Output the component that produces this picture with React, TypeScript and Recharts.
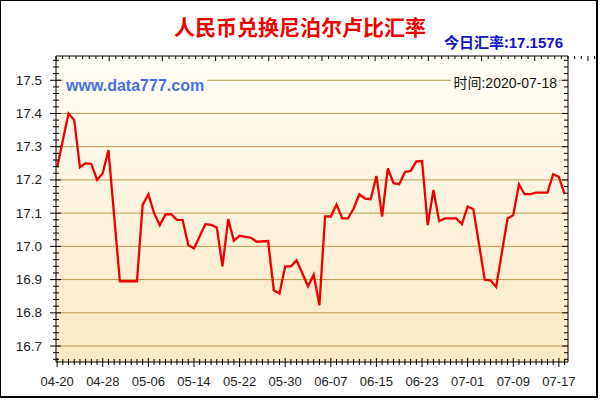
import { LineChart, Line, XAxis, YAxis, ReferenceLine } from "recharts";

// dates (2020) and rates
const dates = [
	"04-20", "04-22", "04-23", "04-24", "04-25", "04-26", "04-27", "04-28", "04-29",
	"05-01", "05-04", "05-05", "05-06", "05-07", "05-08", "05-09", "05-10", "05-11",
	"05-12", "05-13", "05-14", "05-16", "05-17", "05-18", "05-19", "05-20", "05-21",
	"05-22", "05-24", "05-25", "05-27", "05-28", "05-29", "05-30", "05-31", "06-01",
	"06-03", "06-04", "06-05", "06-06", "06-07", "06-08", "06-09", "06-10", "06-11",
	"06-12", "06-13", "06-14", "06-15", "06-16", "06-17", "06-18", "06-19", "06-20",
	"06-21", "06-22", "06-23", "06-24", "06-25", "06-26", "06-27", "06-29", "06-30",
	"07-01", "07-02", "07-04", "07-05", "07-06", "07-08", "07-09", "07-10", "07-11",
	"07-12", "07-13", "07-15", "07-16", "07-17", "07-18",
];
const rates = [
	17.238, 17.4, 17.38, 17.238, 17.25, 17.248, 17.2, 17.22, 17.29,
	16.895, 16.895, 17.125, 17.157, 17.1, 17.064, 17.096, 17.097, 17.08,
	17.08, 17.004, 16.994, 17.067, 17.065, 17.057, 16.94, 17.082, 17.017,
	17.032, 17.026, 17.014, 17.016, 16.868, 16.858, 16.94, 16.94, 16.958,
	16.88, 16.915, 16.823, 17.09, 17.09, 17.126, 17.084, 17.084, 17.114,
	17.157, 17.144, 17.142, 17.212, 17.09, 17.235, 17.19, 17.187, 17.224,
	17.227, 17.256, 17.257, 17.064, 17.17, 17.076, 17.084, 17.084, 17.067,
	17.12, 17.112, 16.9, 16.898, 16.878, 17.084, 17.094, 17.187, 17.157,
	17.157, 17.162, 17.162, 17.217, 17.209, 17.1576,
];
const xLabels = ["04-20", "04-28", "05-06", "05-14", "05-22", "05-30", "06-07", "06-15", "06-23", "07-01", "07-09", "07-17"];
const yMajor = [16.7, 16.8, 16.9, 17.0, 17.1, 17.2, 17.3, 17.4, 17.5];

const dayOf = (md: string) => {
	const [m, d] = md.split("-").map(Number);
	return (Date.UTC(2020, m - 1, d) - Date.UTC(2020, 3, 20)) / 86400000;
};

const data = dates.map((d, i) => ({ day: dayOf(d), rate: rates[i] }));

const xTicks = Array.from({ length: 90 }, (_, i) => i);
const yTicks = Array.from({ length: 46 }, (_, i) => +(16.66 + i * 0.02).toFixed(2));
const X_DOMAIN: [number, number] = [-0.2, 89.6];
const Y_DOMAIN: [number, number] = [16.652, 17.573];

const isMajorY = (v: number) => Math.abs(Math.round(v * 10) - v * 10) < 1e-6;
const labelFont = "'Liberation Sans', Arial, sans-serif";

const BottomTick = (props: any) => {
	const { x, y, payload } = props;
	const major = payload.value % 8 === 0;
	return (
		<g>
			<line x1={x} x2={x} y1={y - (major ? 4 : 3)} y2={y + (major ? 5 : 3)} stroke="#000" />
			{major && (
				<text x={x} y={y + 19} textAnchor="middle" dominantBaseline="central" fontSize={13} fill="#222" fontFamily={labelFont}>
					{xLabels[payload.value / 8]}
				</text>
			)}
		</g>
	);
};

const TopTick = (props: any) => {
	const { x, y, payload } = props;
	const major = payload.value % 8 === 0;
	return <line x1={x} x2={x} y1={y} y2={y + (major ? 5 : 3)} stroke="#000" />;
};

const LeftTick = (props: any) => {
	const { x, y, payload } = props;
	const major = isMajorY(payload.value);
	return (
		<g>
			<line x1={x - (major ? 6 : 3)} x2={x + (major ? 5 : 3)} y1={y} y2={y} stroke="#000" />
			{major && (
				<text x={x - 14} y={y} textAnchor="end" dominantBaseline="central" fontSize={13.5} fill="#222" fontFamily={labelFont}>
					{payload.value.toFixed(1)}
				</text>
			)}
		</g>
	);
};

const RightTick = (props: any) => {
	const { x, y, payload } = props;
	const major = isMajorY(payload.value);
	return <line x1={x - (major ? 6 : 4)} x2={x} y1={y} y2={y} stroke="#000" />;
};

const axisCommon = {
	type: "number" as const,
	allowDataOverflow: true,
	interval: 0 as const,
	tickSize: 0,
	tickMargin: 0,
	tickLine: false,
	axisLine: { stroke: "#000" },
};

export default function App() {
	return (
		<div style={{ position: "fixed", left: 0, top: 0, width: 600, height: 400, background: "#fff" }}>
			<div style={{ position: "absolute", left: 0, top: 0, width: 598, height: 398, boxSizing: "border-box", borderTop: "1px solid #000", borderLeft: "1px solid #000", borderRight: "2px solid #000", borderBottom: "2px solid #000" }} />
			<div style={{ position: "absolute", left: 56, top: 56, width: 512, height: 306, background: "linear-gradient(#FFFEF6, #FCE8C4)" }} />
			<div style={{ position: "absolute", left: 0, top: 0 }}>
				<LineChart width={600} height={400} data={data} margin={{ top: 55, left: 55, right: 31, bottom: 37 }}>
					<XAxis {...axisCommon} xAxisId="bottom" dataKey="day" domain={X_DOMAIN} ticks={xTicks} height={1} tick={BottomTick} />
					<XAxis {...axisCommon} xAxisId="top" orientation="top" domain={X_DOMAIN} ticks={xTicks} height={1} tick={TopTick} />
					<YAxis {...axisCommon} yAxisId="left" domain={Y_DOMAIN} ticks={yTicks} width={1} tick={LeftTick} />
					<YAxis {...axisCommon} yAxisId="right" orientation="right" domain={Y_DOMAIN} ticks={yTicks} width={1} tick={RightTick} />
					{yMajor.map((v) => (
						<ReferenceLine key={v} y={v} xAxisId="bottom" yAxisId="left" stroke="#BE9A48" strokeWidth={1} />
					))}
					<Line
						xAxisId="bottom"
						yAxisId="left"
						type="linear"
						dataKey="rate"
						stroke="#EE0000"
						strokeWidth={2.3}
						dot={false}
						isAnimationActive={false}
					/>
				</LineChart>
			</div>
			<div style={{ position: "absolute", left: 0, width: 600, top: 12, textAlign: "center", fontFamily: "'Noto Sans CJK SC', sans-serif", fontWeight: "bold", fontSize: 21, lineHeight: "28px", color: "#EE0000" }}>
				人民币兑换尼泊尔卢比汇率
			</div>
			<div style={{ position: "absolute", right: 37, top: 33, fontFamily: "'Noto Sans CJK SC', 'Liberation Sans', sans-serif", fontWeight: "bold", fontSize: 15, lineHeight: "18px", color: "#1212C8" }}>
				今日汇率:<span style={{ fontFamily: labelFont }}>17.1576</span>
			</div>
			<div style={{ position: "absolute", left: 63, top: 76, padding: "0 3px", background: "#FFFDF3", fontFamily: labelFont, fontWeight: "bold", fontSize: 16, lineHeight: "20px", color: "#4A6FDF" }}>
				www.data777.com
			</div>
			<div style={{ position: "absolute", right: 41, top: 74, padding: "0 2px", background: "#FFFDF3", fontFamily: "'Liberation Sans', 'Noto Sans CJK SC', sans-serif", fontSize: 14, lineHeight: "18px", color: "#111" }}>
				时间:2020-07-18
			</div>
		</div>
	);
}
